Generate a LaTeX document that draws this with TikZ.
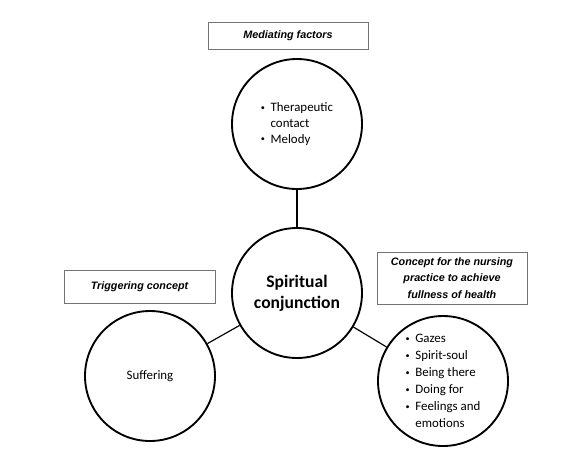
\documentclass[tikz,border=0pt]{standalone}
\usepackage{fontspec}
\setmainfont{Carlito}
\newfontfamily\boxfont{Liberation Sans}
\usepackage{tikz}
\usetikzlibrary{positioning}

\tikzset{
    concept/.style={draw=black, line width=1.6pt, circle, minimum size=3.9cm, inner sep=0pt,
        font=\fontsize{11}{14.5}\selectfont, align=left},
    labelbox/.style={draw=black!55, line width=0.6pt, rectangle, inner sep=0pt,
        font=\boxfont\bfseries\itshape\fontsize{9.2}{14.3}\selectfont, align=center},
    link/.style={black, line width=1pt}
}
\newcommand{\itm}[1]{\makebox[0.75em][l]{\raisebox{0.12em}{\fontsize{7}{7}\selectfont\textbullet}}#1}
\newcommand{\cnt}[1]{\hspace*{0.75em}#1}

\begin{document}
\begin{tikzpicture}[x=0.03cm, y=-0.03cm]
        \useasboundingbox (0,0) rectangle (584,462);
        % circles
        \node[concept, font=\fontsize{11}{13.5}\selectfont] (mediate) at (297,124) {\itm{Therapeutic}\\ \cnt{contact}\\ \itm{Melody}};
        \node[concept, font=\bfseries\fontsize{15}{18}\selectfont, align=center] (core) at (297,293) {Spiritual\\ conjunction};
        \node[concept, align=center] (trigger) at (150,376) {Suffering};
        \node[concept] (practice) at (443,381) {\itm{Gazes}\\ \itm{Spirit-soul}\\ \itm{Being there}\\ \itm{Doing for}\\ \itm{Feelings and}\\ \cnt{emotions}};
        % boxes
        \node[labelbox, minimum width=4.8cm, minimum height=0.81cm] (mediatebox) at (288,35.5) {Mediating factors};
        \node[labelbox, minimum width=4.53cm, minimum height=0.99cm] (triggerbox) at (139.5,286.5) {Triggering concept};
        \node[labelbox, minimum width=4.5cm, minimum height=1.56cm, text depth=0pt] (practicebox) at (452,278) {Concept for the nursing\\ practice to achieve\\ fullness of health};
        % links
        \draw[link] (mediate) -- (core);
        \draw[link] (core) -- (trigger);
        \draw[link] (core) -- (practice);
    \end{tikzpicture}
\end{document}
